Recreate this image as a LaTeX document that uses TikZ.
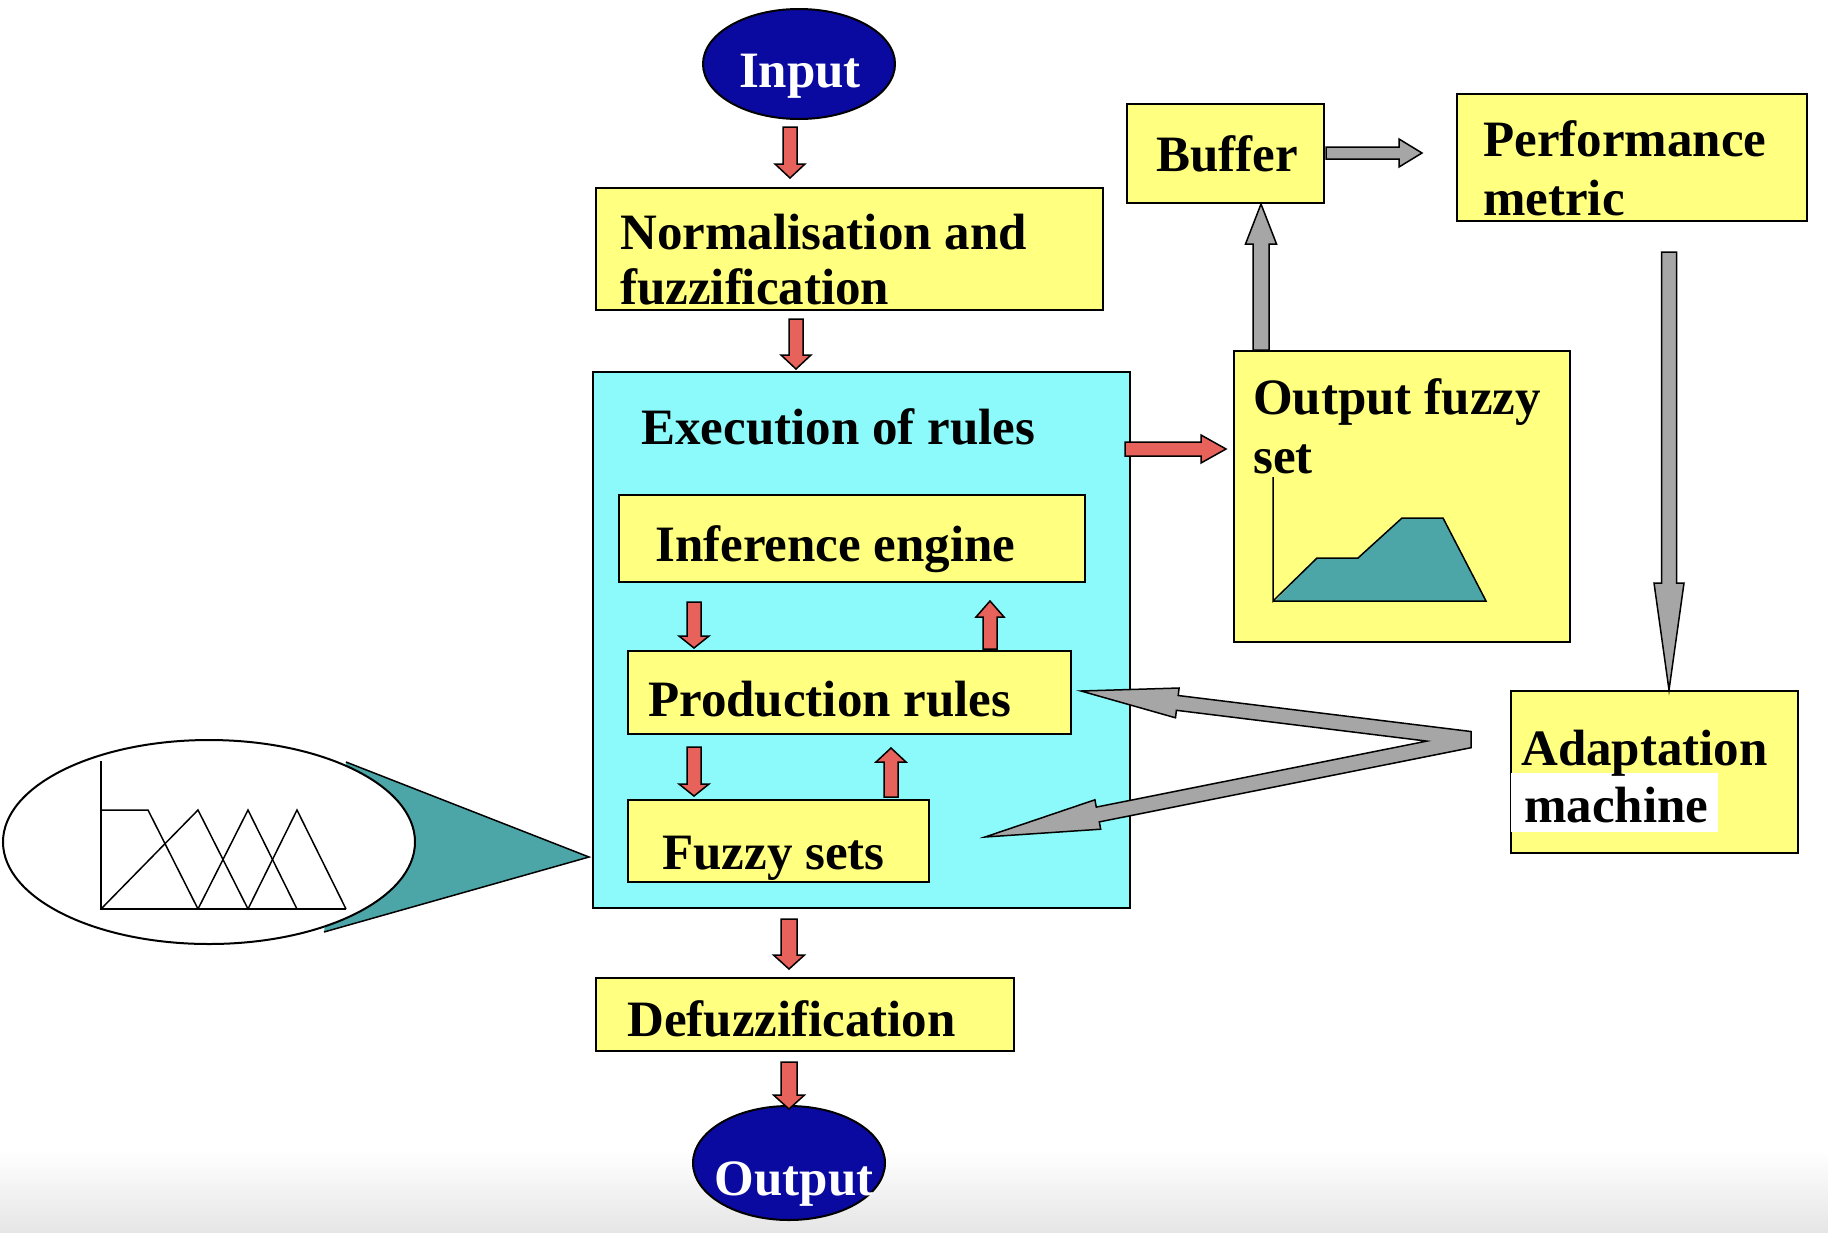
\documentclass[tikz,border=0pt]{standalone}
\usepackage{fontspec}
\setmainfont{Liberation Serif}
\usetikzlibrary{shapes.geometric,calc}
\definecolor{ycol}{RGB}{255,255,128}
\definecolor{ccol}{RGB}{140,250,250}
\definecolor{bcol}{RGB}{10,10,160}
\definecolor{rcol}{RGB}{232,98,92}
\definecolor{gcol}{RGB}{166,166,166}
\definecolor{tcol}{RGB}{76,166,168}
\newcommand\blockarrow[6]{%
  \coordinate (bap) at (#2);
  \coordinate (baq) at (#3);
  \coordinate (bah) at ($(baq)!#6pt!(bap)$);
  \draw[#1] ($(bap)!#4pt!90:(baq)$) -- ($(bah)!#4pt!90:(baq)$) -- ($(bah)!#5pt!90:(baq)$) -- (baq) -- ($(bah)!#5pt!-90:(baq)$) -- ($(bah)!#4pt!-90:(baq)$) -- ($(bap)!#4pt!-90:(baq)$) -- cycle;
}
\tikzset{
  txt/.style={font=\fontsize{51}{61}\selectfont\bfseries, inner sep=0pt, anchor=base west},
  ybox/.style={draw=black, line width=2pt, fill=ycol, inner sep=0pt, anchor=north west},
  cbox/.style={draw=black, line width=2pt, fill=ccol, inner sep=0pt, anchor=north west},
  blueell/.style={draw=black, line width=2pt, fill=bcol, ellipse, inner sep=0pt},
  redarrow/.style={fill=rcol, draw=black, line width=1.5pt},
  grayarrow/.style={fill=gcol, draw=black, line width=1.5pt},
  plotline/.style={draw=black, line width=1.5pt},
}
\begin{document}
\begin{tikzpicture}[x=1pt,y=-1pt]
\useasboundingbox (0,0) rectangle (1828,1232);
\fill[white] (0,0) rectangle (1828,1232);
\shade[top color=white, bottom color=black!10] (0,1150) rectangle (1828,1232);

% fuzzy sets callout
\fill[tcol] (346,762) -- (589,857) -- (324,932) -- cycle;
\draw[plotline] (346,762) -- (589,857) -- (324,932);
\node[draw=black, line width=2pt, fill=white, ellipse, inner sep=0pt, minimum width=412, minimum height=204] (mfell) at (209,842) {};
\draw[plotline] (101,761) -- (101,909) -- (346,909);
\draw[plotline] (101,810) -- (148,810) -- (198,909);
\draw[plotline] (101,909) -- (198,810) -- (248,909);
\draw[plotline] (198,909) -- (248,810) -- (297,909);
\draw[plotline] (248,909) -- (297,810) -- (346,909);

% input
\node[blueell, minimum width=192, minimum height=110] (inp) at (799,64) {};
\node[txt, anchor=base, white] (inpt) at (800,87) {Input};

% normalisation
\node[ybox, minimum width=507, minimum height=122] (norm) at (595,187) {};
\node[txt] (normt1) at (620,249) {Normalisation and};
\node[txt] (normt2) at (620,304) {fuzzification};

% execution of rules
\node[cbox, minimum width=537, minimum height=536] (exec) at (592,371) {};
\node[txt] (exect) at (641,444) {Execution of rules};
\node[ybox, minimum width=466, minimum height=87] (ie) at (618,494) {};
\node[txt] (iet) at (655,561) {Inference engine};
\node[ybox, minimum width=443, minimum height=83] (pr) at (627,650) {};
\node[txt] (prt) at (648,716) {Production rules};
\node[ybox, minimum width=301, minimum height=82] (fs) at (627,799) {};
\node[txt] (fst) at (662,869) {Fuzzy sets};

% defuzzification
\node[ybox, minimum width=418, minimum height=73] (defz) at (595,977) {};
\node[txt] (defzt) at (627,1036) {Defuzzification};

% output
\node[blueell, minimum width=192, minimum height=114] (outp) at (789,1163) {};
\node[txt, anchor=base, white] (outpt) at (794,1195) {Output};

% output fuzzy set
\node[ybox, minimum width=336, minimum height=291] (ofs) at (1233,350) {};
\node[txt] (ofst1) at (1253,414) {Output fuzzy};
\node[txt] (ofst2) at (1253,473) {set};
\fill[tcol] (1275,601) -- (1317,558) -- (1358,558) -- (1402,518) -- (1443,518) -- (1486,601) -- cycle;
\draw[plotline] (1273,477) -- (1273,601) -- (1317,558) -- (1358,558) -- (1402,518) -- (1443,518) -- (1486,601) -- (1273,601);

% buffer
\node[ybox, minimum width=197, minimum height=99] (buf) at (1126,103) {};
\node[txt] (buft) at (1156,171) {Buffer};

% performance metric
\node[ybox, minimum width=350, minimum height=127] (perf) at (1456,93) {};
\node[txt] (perft1) at (1483,156) {Performance};
\node[txt] (perft2) at (1483,215) {metric};

% adaptation machine
\node[ybox, minimum width=287, minimum height=162] (adapt) at (1510,690) {};
\fill[white] (1511,773) rectangle (1718,832);
\node[txt] (adaptt1) at (1521,765) {Adaptation};
\node[txt] (adaptt2) at (1524,822) {machine};

% red arrows
\coordinate (r1s) at (790,127); \coordinate (r1e) at (790,178);
\coordinate (r2s) at (796,319); \coordinate (r2e) at (796,369);
\coordinate (r3s) at (694,602); \coordinate (r3e) at (694,648);
\coordinate (r4s) at (990,649); \coordinate (r4e) at (990,601);
\coordinate (r5s) at (694,747); \coordinate (r5e) at (694,796);
\coordinate (r6s) at (891,797); \coordinate (r6e) at (891,748);
\coordinate (r7s) at (789,919); \coordinate (r7e) at (789,969);
\coordinate (r8s) at (789,1062); \coordinate (r8e) at (789,1109);
\coordinate (r9s) at (1125,449); \coordinate (r9e) at (1226,449);
\blockarrow{redarrow}{r1s}{r1e}{7}{15}{14}
\blockarrow{redarrow}{r2s}{r2e}{7}{15}{14}
\blockarrow{redarrow}{r3s}{r3e}{7}{15}{12}
\blockarrow{redarrow}{r4s}{r4e}{7}{14}{16}
\blockarrow{redarrow}{r5s}{r5e}{7}{15}{12}
\blockarrow{redarrow}{r6s}{r6e}{7}{15}{14}
\blockarrow{redarrow}{r7s}{r7e}{8}{15.5}{14}
\blockarrow{redarrow}{r8s}{r8e}{8}{15.5}{14}
\blockarrow{redarrow}{r9s}{r9e}{7}{14}{25}

% gray arrows
\coordinate (g1s) at (1261,350); \coordinate (g1e) at (1261,204);
\coordinate (g2s) at (1326,153); \coordinate (g2e) at (1422,153);
\coordinate (g3s) at (1669,252); \coordinate (g3e) at (1669,690);
\blockarrow{grayarrow}{g1s}{g1e}{8}{15.5}{40}
\blockarrow{grayarrow}{g2s}{g2e}{6}{14}{23}
\blockarrow{grayarrow}{g3s}{g3e}{7.5}{15}{107}

% double V arrow from adaptation machine
\coordinate (vt1) at (1081,691);
\coordinate (vt2) at (985,837);
\draw[grayarrow, line join=miter] (vt1) -- (1179.1,688.0) -- (1178.2,695.5) -- (1471,731.5) -- (1471,747.7) -- (1099.3,821.9) -- (1100.7,829.2) -- (vt2) -- (1094.9,799.8) -- (1096.3,807.1) -- (1426.8,741.1) -- (1176.4,710.3) -- (1175.5,717.8) -- cycle;
\end{tikzpicture}
\end{document}
